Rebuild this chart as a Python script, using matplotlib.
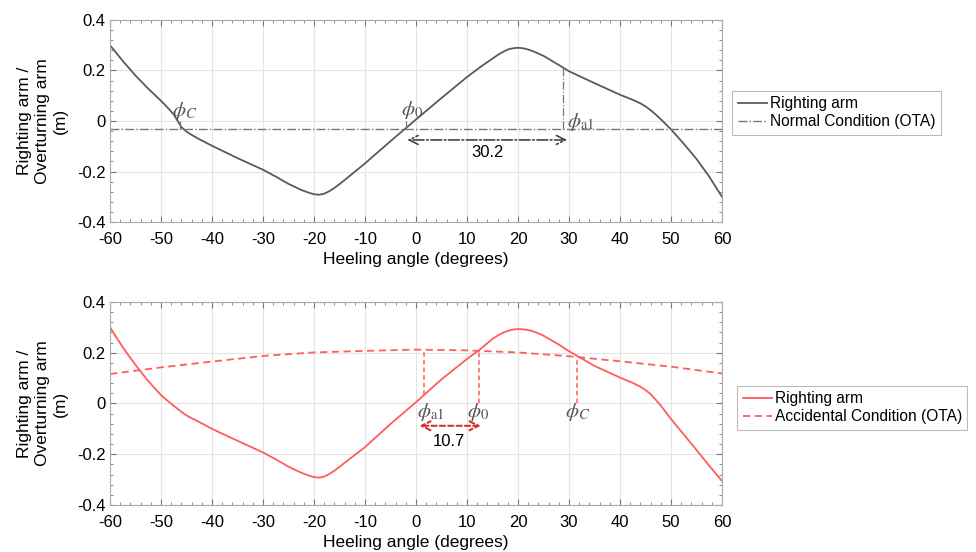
import numpy as np
import matplotlib.pyplot as plt
from matplotlib.ticker import AutoMinorLocator

plt.rcParams['font.family'] = ['Liberation Sans', 'DejaVu Sans']
plt.rcParams['mathtext.fontset'] = 'stix'

# heeling angles (deg) and righting arm (m)
angles = [-60, -58.75, -57.5, -56.25, -55, -52.5, -50, -48.75, -47.5, -46,
          -45, -44, -42.5, -40, -35, -30, -27.5, -25, -22.5, -21, -20, -19,
          -18, -17, -16, -15, -14, -10, -5, 0, 5, 10, 12.5, 15, 16, 17, 18,
          19, 20, 21, 22, 23, 24, 25, 28, 30, 35, 40, 42.5, 44, 45, 46, 47,
          48, 50, 52.5, 55, 57.5, 60]
gz_normal = [0.300, 0.269, 0.238, 0.209, 0.180, 0.128, 0.080, 0.054, 0.026,
             -0.024, -0.042, -0.055, -0.072, -0.098, -0.147, -0.193, -0.220,
             -0.249, -0.273, -0.284, -0.290, -0.292, -0.288, -0.278, -0.265,
             -0.250, -0.234, -0.168, -0.080, 0.006, 0.091, 0.174, 0.212,
             0.247, 0.261, 0.273, 0.283, 0.288, 0.290, 0.288, 0.283, 0.276,
             0.267, 0.258, 0.222, 0.197, 0.150, 0.104, 0.084, 0.070, 0.058,
             0.043, 0.026, 0.007, -0.033, -0.090, -0.150, -0.220, -0.300]
gz_accident = [0.300, 0.260, 0.222, 0.186, 0.152, 0.088, 0.033, 0.011, -0.009,
               -0.033, -0.047, -0.058, -0.073, -0.100, -0.147, -0.193, -0.220,
               -0.249, -0.273, -0.284, -0.290, -0.292, -0.288, -0.278, -0.265,
               -0.250, -0.234, -0.172, -0.081, 0.005, 0.095, 0.175, 0.212,
               0.254, 0.267, 0.278, 0.286, 0.291, 0.293, 0.292, 0.289, 0.284,
               0.276, 0.267, 0.232, 0.206, 0.148, 0.102, 0.081, 0.066, 0.053,
               0.037, 0.015, -0.008, -0.061, -0.122, -0.183, -0.245, -0.305]

# overturning arms
ota_normal = -0.03
acc_angles = [-60, -50, -40, -30, -20, -10, 0, 10, 20, 30, 40, 50, 60]
ota_accident = [0.116, 0.142, 0.165, 0.187, 0.201, 0.207, 0.212, 0.209,
                0.201, 0.186, 0.166, 0.145, 0.118]

# characteristic angles
phi_c_n, phi_0_n, phi_a1_n = -46.2, -2.0, 28.75
phi_a1_a, phi_0_a, phi_c_a = 1.65, 12.4, 31.5
range_n = "30.2"
range_a = "10.7"

gray = '#5a5a5a'
red = '#ff5c5c'
dark_red = '#d8322c'
lbl_color = '#555555'
fs_tick = 12
fs_lab = 12.5
fs_leg = 11.2
fs_phi = 15


def style_axes(ax):
    ax.set_xlim(-60, 60)
    ax.set_ylim(-0.4, 0.4)
    ax.set_xticks(np.arange(-60, 61, 10))
    ax.set_yticks([-0.4, -0.2, 0, 0.2, 0.4])
    ax.set_yticklabels(['-0.4', '-0.2', '0', '0.2', '0.4'])
    ax.set_xticklabels([str(v) for v in range(-60, 61, 10)])
    ax.xaxis.set_minor_locator(AutoMinorLocator(5))
    ax.yaxis.set_minor_locator(AutoMinorLocator(5))
    ax.tick_params(which='both', direction='in', top=True, right=True,
                   color='#777777', labelsize=fs_tick)
    ax.tick_params(axis='x', which='major', pad=7)
    ax.tick_params(axis='y', which='major', pad=3)
    ax.tick_params(which='major', length=4)
    ax.tick_params(which='minor', length=2.5)
    ax.grid(True, which='major', color='#e4e4e4', lw=0.8)
    for s in ax.spines.values():
        s.set_color('#aaaaaa')
    ax.set_xlabel('Heeling angle (degrees)', fontsize=fs_lab, labelpad=4)
    ax.set_ylabel('Righting arm /\nOverturning arm\n(m)', fontsize=fs_lab,
                  multialignment='center', linespacing=1.25)
    ax.yaxis.set_label_coords(-0.069, 0.5)


def style_legend(ax, anchor):
    leg = ax.legend(loc='center left', bbox_to_anchor=anchor,
                    fontsize=fs_leg, frameon=True, fancybox=False,
                    handlelength=1.9, handletextpad=0.15, borderpad=0.35,
                    labelspacing=0.2, borderaxespad=0)
    leg.get_frame().set_edgecolor('#aaaaaa')
    leg.get_frame().set_linewidth(0.8)


fig = plt.figure(figsize=(9.76, 5.52), dpi=100)
ax1 = fig.add_axes([0.1127, 0.5978, 0.627, 0.366])
ax2 = fig.add_axes([0.1127, 0.0851, 0.627, 0.368])

# ---- normal condition ----
style_axes(ax1)
ax1.plot(angles, gz_normal, color=gray, lw=1.3, label='Righting arm')
ax1.axhline(ota_normal, color='#777777', lw=1.0, ls='-.',
            label='Normal Condition (OTA)')
for p, top in [(phi_c_n, 0.0), (phi_0_n, 0.0),
               (phi_a1_n, np.interp(phi_a1_n, angles, gz_normal))]:
    ax1.plot([p, p], [ota_normal, top], color='#777777', lw=0.9, ls='-.')
ax1.text(phi_c_n + 0.8, 0.04, r'$\phi_C$', fontsize=fs_phi, color=lbl_color,
         ha='center', va='center')
ax1.text(phi_0_n + 1.3, 0.045, r'$\phi_0$', fontsize=fs_phi, color=lbl_color,
         ha='center', va='center')
ax1.text(phi_a1_n + 3.5, -0.005, r'$\phi_{\mathrm{a1}}$', fontsize=fs_phi,
         color=lbl_color, ha='center', va='center')
ax1.annotate('', xy=(phi_0_n + 0.3, -0.075), xytext=(phi_a1_n + 0.9, -0.075),
             arrowprops=dict(arrowstyle='<->', color='#444444', lw=1.2,
                             ls='-.', mutation_scale=16, shrinkA=0, shrinkB=0))
ax1.text(14.0, -0.124, range_n, fontsize=fs_tick, ha='center', va='center')
style_legend(ax1, (1.017, 0.54))

# ---- accidental condition ----
style_axes(ax2)
ax2.plot(angles, gz_accident, color=red, lw=1.3, label='Righting arm')
ax2.plot(acc_angles, ota_accident, color=red, lw=1.3, ls=(0, (4, 2.5)),
         label='Accidental Condition (OTA)')
for p, bottom in [(phi_a1_a, np.interp(phi_a1_a, angles, gz_accident)),
                  (phi_0_a, 0.0), (phi_c_a, 0.0)]:
    top = np.interp(p, acc_angles, ota_accident)
    ax2.plot([p, p], [bottom, top], color=red, lw=1.1, ls=(0, (3, 2)))
ax2.text(phi_a1_a + 1.3, -0.035, r'$\phi_{\mathrm{a1}}$', fontsize=fs_phi,
         color=lbl_color, ha='center', va='center')
ax2.text(phi_0_a - 0.2, -0.035, r'$\phi_0$', fontsize=fs_phi, color=lbl_color,
         ha='center', va='center')
ax2.text(phi_c_a + 0.2, -0.035, r'$\phi_C$', fontsize=fs_phi, color=lbl_color,
         ha='center', va='center')
ax2.annotate('', xy=(phi_a1_a - 1.0, -0.088), xytext=(phi_0_a + 0.3, -0.088),
             arrowprops=dict(arrowstyle='<->', color=dark_red, lw=1.5,
                             ls=(0, (2.5, 1.5)), mutation_scale=16,
                             shrinkA=0, shrinkB=0))
ax2.text(6.5, -0.148, range_a, fontsize=fs_tick, ha='center', va='center')
style_legend(ax2, (1.025, 0.48))

fig.savefig('out.png', dpi=100)
